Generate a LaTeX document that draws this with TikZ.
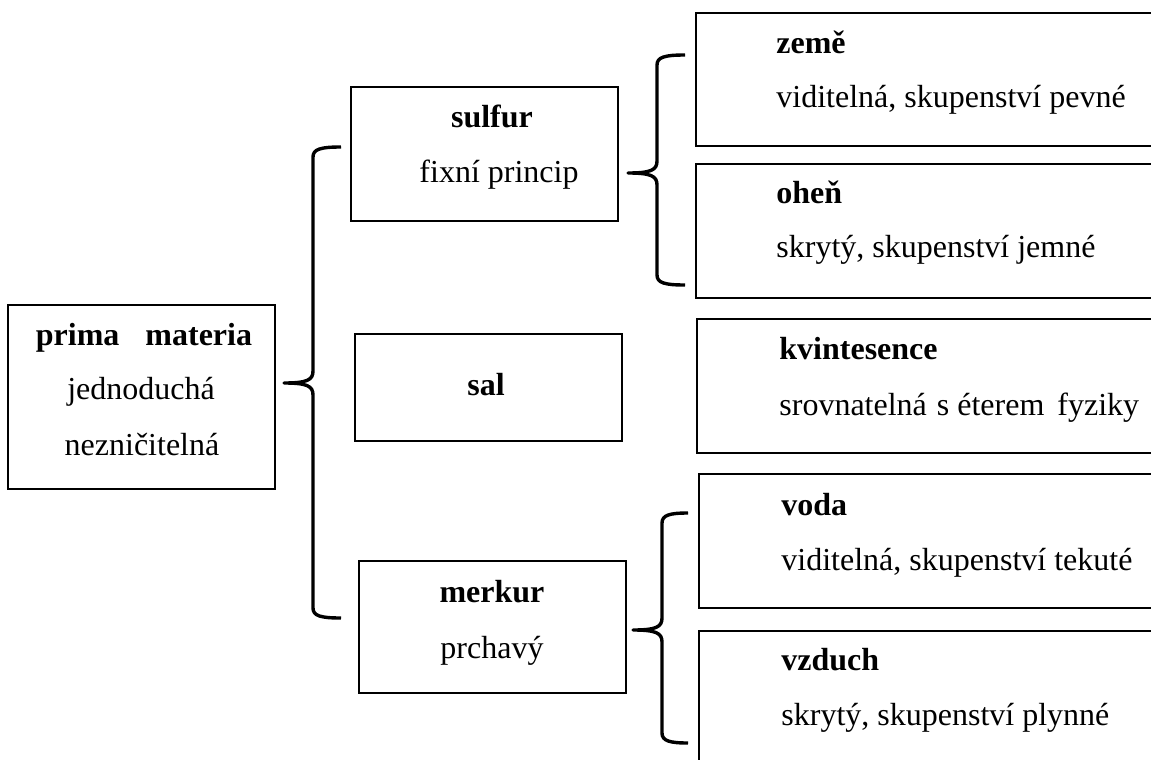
\documentclass[tikz,border=0pt]{standalone}
\usepackage{fontspec}
\setmainfont{Liberation Serif}
\usetikzlibrary{fit,calc}

% curly bracket: top end, tip, bottom end (vertical stroke sits 29 units right of the tip)
\newcommand{\drawbrace}[3]{%
  \draw[bracestyle] let \p1=(#1), \p2=(#2), \p3=(#3), \p4=($(#2)+(29,0)$) in
    (\p1) .. controls ({\x4+4pt},\y1) and (\x4,{\y1-1pt}) .. (\x4,{\y1-5pt})
    -- (\x4,{\y2+6pt}) .. controls (\x4,{\y2+1.5pt}) and ({\x4-3pt},\y2) .. (\p2)
    .. controls ({\x4-3pt},\y2) and (\x4,{\y2-1.5pt}) .. (\x4,{\y2-6pt})
    -- (\x4,{\y3+5pt}) .. controls (\x4,{\y3+1pt}) and ({\x4+4pt},\y3) .. (\p3);}

\begin{document}
\begin{tikzpicture}[x=0.5pt,y=-0.5pt,
  box/.style={draw, line width=1pt, inner sep=0pt},
  txt/.style={anchor=base west, inner sep=0pt, font=\fontsize{16}{19}\selectfont},
  ctxt/.style={anchor=base, inner sep=0pt, font=\fontsize{16}{19}\selectfont},
  bracestyle/.style={line width=1.7pt, line join=round}]

\useasboundingbox (0,0) rectangle (1151,760);
\clip (0,0) rectangle (1151,760);

% boxes
\node[box, fit={(8,305)(275,489)}] (prima) {};
\node[box, fit={(351,87)(618,221)}] (sulfur) {};
\node[box, fit={(355,334)(622,441)}] (sal) {};
\node[box, fit={(359,561)(626,693)}] (merkur) {};
\node[box, fit={(696,13)(1170,146)}] (zeme) {};
\node[box, fit={(696,164)(1170,298)}] (ohen) {};
\node[box, fit={(697,319)(1170,453)}] (kvint) {};
\node[box, fit={(699,474)(1170,608)}] (voda) {};
\node[box, fit={(699,631)(1170,790)}] (vzduch) {};

% texts of the left column
\node[ctxt] (prima-1) at (144,345) {\textbf{prima}\hspace{13pt}\textbf{materia}};
\node[ctxt] (prima-2) at (141,399) {jednoduchá};
\node[ctxt] (prima-3) at (142,455) {nezničitelná};

% texts of the middle column
\node[ctxt] (sulfur-1) at (492,127) {\textbf{sulfur}};
\node[ctxt] (sulfur-2) at (499,182) {fixní princip};
\node[ctxt] (sal-1) at (486,395) {\textbf{sal}};
\node[ctxt] (merkur-1) at (492,602) {\textbf{merkur}};
\node[ctxt] (merkur-2) at (492,658) {prchavý};

% texts of the right column
\node[txt] (zeme-1) at (776,53) {\textbf{země}};
\node[txt] (zeme-2) at (776,107) {viditelná, skupenství pevné};
\node[txt] (ohen-1) at (776,203) {\textbf{oheň}};
\node[txt] (ohen-2) at (776,257) {skrytý, skupenství jemné};
\node[txt] (kvint-1) at (779,359) {\textbf{kvintesence}};
\node[txt] (kvint-2) at (779,415) {srovnatelná\hspace{1pt} s éterem\hspace{2.5pt} fyziky};
\node[txt] (voda-1) at (781,515) {\textbf{voda}};
\node[txt] (voda-2) at (781,570) {viditelná, skupenství tekuté};
\node[txt] (vzduch-1) at (781,670) {\textbf{vzduch}};
\node[txt] (vzduch-2) at (781,725) {skrytý, skupenství plynné};

% bracket end points
\coordinate (b1-top) at (341,147);
\coordinate (b1-tip) at (284,383);
\coordinate (b1-bot) at (341,618);
\coordinate (b2-top) at (685,55);
\coordinate (b2-tip) at (628,173);
\coordinate (b2-bot) at (685,285);
\coordinate (b3-top) at (688,513);
\coordinate (b3-tip) at (633,630);
\coordinate (b3-bot) at (688,743);

\drawbrace{b1-top}{b1-tip}{b1-bot}
\drawbrace{b2-top}{b2-tip}{b2-bot}
\drawbrace{b3-top}{b3-tip}{b3-bot}
\end{tikzpicture}
\end{document}
